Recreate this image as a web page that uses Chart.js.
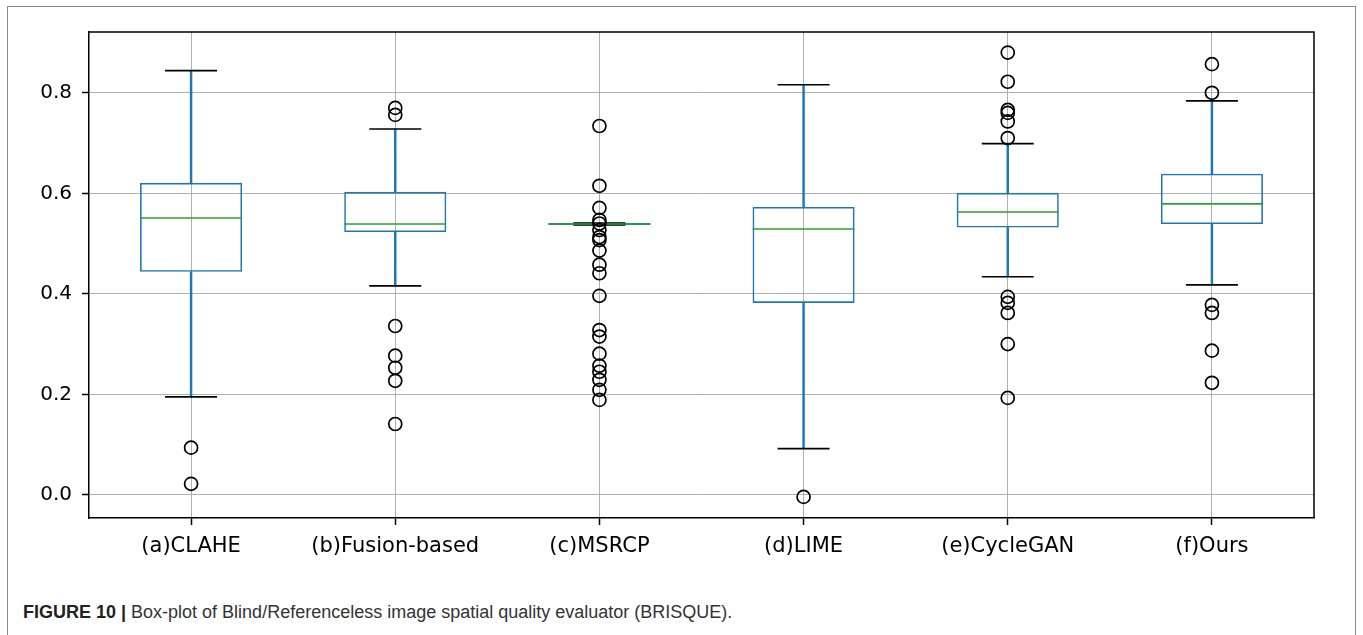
<!DOCTYPE html>
<html>
<head>
<meta charset="utf-8">
<script src="https://cdn.jsdelivr.net/npm/chart.js@4.4.1/dist/chart.umd.min.js"></script>
<style>
  html, body { margin: 0; padding: 0; background: #fff; }
  body { width: 1363px; height: 635px; position: relative; overflow: hidden; }
  #frame { position: absolute; left: 7px; top: 6px; width: 1347px; height: 700px; border: 1.5px solid #8a8a8a; }
  #chart { position: absolute; left: 0; top: 0; }
  #caption { position: absolute; left: 23px; top: 602px; font: 18px "Liberation Sans", Arial, sans-serif; color: #333; white-space: nowrap; }
  #caption b { font-weight: 700; color: #222; }
</style>
</head>
<body>
<div id="frame"></div>
<canvas id="chart" width="1363" height="560"></canvas>
<div id="caption"><b>FIGURE 10 |</b> Box-plot of Blind/Referenceless image spatial quality evaluator (BRISQUE).</div>
<script>
const categories = ["(a)CLAHE", "(b)Fusion-based", "(c)MSRCP", "(d)LIME", "(e)CycleGAN", "(f)Ours"];

// five-number summary
const whiskerLow = [0.195, 0.416, 0.537, 0.092, 0.434, 0.418];
const q1 = [0.444, 0.523, 0.537, 0.382, 0.532, 0.539];
const median = [0.551, 0.539, 0.539, 0.529, 0.563, 0.579];
const q3 = [0.621, 0.603, 0.541, 0.573, 0.601, 0.639];
const whiskerHigh = [0.844, 0.728, 0.541, 0.816, 0.699, 0.784];

const outliers = [
  [0.094, 0.022],
  [0.770, 0.756, 0.336, 0.277, 0.253, 0.227, 0.141],
  [0.734, 0.615, 0.571, 0.547, 0.540, 0.527, 0.513, 0.507, 0.486, 0.458, 0.441, 0.396,
   0.328, 0.315, 0.281, 0.257, 0.245, 0.229, 0.209, 0.189],
  [-0.004],
  [0.880, 0.822, 0.766, 0.760, 0.743, 0.710, 0.394, 0.382, 0.362, 0.300, 0.193],
  [0.857, 0.800, 0.378, 0.362, 0.287, 0.223]
];

const yTicks = [0.0, 0.2, 0.4, 0.6, 0.8];

const BLUE = "#1f77b4";
const GREEN = "#2ca02c";
const GRID = "#b0b0b0";

const outlierPoints = [];
outliers.forEach((vals, i) => vals.forEach((v) => outlierPoints.push({ x: categories[i], y: v })));

// top and right spines like matplotlib
const framePlugin = {
  id: "frame",
  afterDatasetsDraw(chart) {
    const a = chart.chartArea;
    const c = chart.ctx;
    c.save();
    c.strokeStyle = "#000";
    c.lineWidth = 1.5;
    c.beginPath();
    c.moveTo(a.left, a.top);
    c.lineTo(a.right, a.top);
    c.lineTo(a.right, a.bottom);
    c.stroke();
    c.restore();
  }
};

const ctx = document.getElementById("chart").getContext("2d");
new Chart(ctx, {
  type: "bar",
  data: {
    labels: categories,
    datasets: [
      {
        label: "upper whisker",
        data: q3.map((v, i) => [v, whiskerHigh[i]]),
        backgroundColor: BLUE,
        borderWidth: 0,
        barThickness: 1.8,
        grouped: false,
        order: 5
      },
      {
        label: "lower whisker",
        data: q1.map((v, i) => [whiskerLow[i], v]),
        backgroundColor: BLUE,
        borderWidth: 0,
        barThickness: 1.8,
        grouped: false,
        order: 5
      },
      {
        label: "box",
        data: q1.map((v, i) => [v, q3[i]]),
        backgroundColor: "rgba(0,0,0,0)",
        borderColor: BLUE,
        borderWidth: 1.6,
        borderSkipped: false,
        barPercentage: 0.5,
        categoryPercentage: 1,
        grouped: false,
        order: 4
      },
      {
        type: "line",
        label: "caps high",
        data: whiskerHigh,
        showLine: false,
        pointStyle: "line",
        pointRadius: 26,
        pointBorderColor: "#000",
        pointBorderWidth: 1.7,
        order: 3
      },
      {
        type: "line",
        label: "caps low",
        data: whiskerLow,
        showLine: false,
        pointStyle: "line",
        pointRadius: 26,
        pointBorderColor: "#000",
        pointBorderWidth: 1.7,
        order: 3
      },
      {
        type: "line",
        label: "median",
        data: median,
        showLine: false,
        pointStyle: "line",
        pointRadius: 51,
        pointBorderColor: GREEN,
        pointBorderWidth: 1.6,
        order: 2
      },
      {
        type: "line",
        label: "outliers",
        data: outlierPoints,
        showLine: false,
        pointStyle: "circle",
        pointRadius: 6.5,
        pointBackgroundColor: "rgba(0,0,0,0)",
        pointBorderColor: "#000",
        pointBorderWidth: 1.7,
        order: 1
      }
    ]
  },
  options: {
    responsive: false,
    animation: false,
    events: [],
    layout: { autoPadding: false, padding: { left: 39, right: 49, top: 32, bottom: 2 } },
    plugins: { legend: { display: false }, tooltip: { enabled: false } },
    scales: {
      x: {
        type: "category",
        offset: true,
        afterFit(scale) { scale.height = 40; },
        grid: { offset: false, color: GRID, lineWidth: 1, tickColor: "#000", tickLength: 7, tickWidth: 1.5 },
        border: { display: true, color: "#000", width: 1.5 },
        ticks: { color: "#000", padding: 9, maxRotation: 0, font: { family: "DejaVu Sans", size: 21 } }
      },
      y: {
        min: -0.046,
        max: 0.921,
        afterFit(scale) { scale.width = 50; },
        afterBuildTicks(scale) { scale.ticks = yTicks.map((v) => ({ value: v })); },
        grid: { color: GRID, lineWidth: 1, tickColor: "#000", tickLength: 7, tickWidth: 1.5 },
        border: { display: true, color: "#000", width: 1.5 },
        ticks: {
          color: "#000",
          padding: 10,
          font: { family: "DejaVu Sans", size: 20 },
          callback: (v) => Number(v).toFixed(1)
        }
      }
    }
  },
  plugins: [framePlugin]
});
</script>
</body>
</html>
